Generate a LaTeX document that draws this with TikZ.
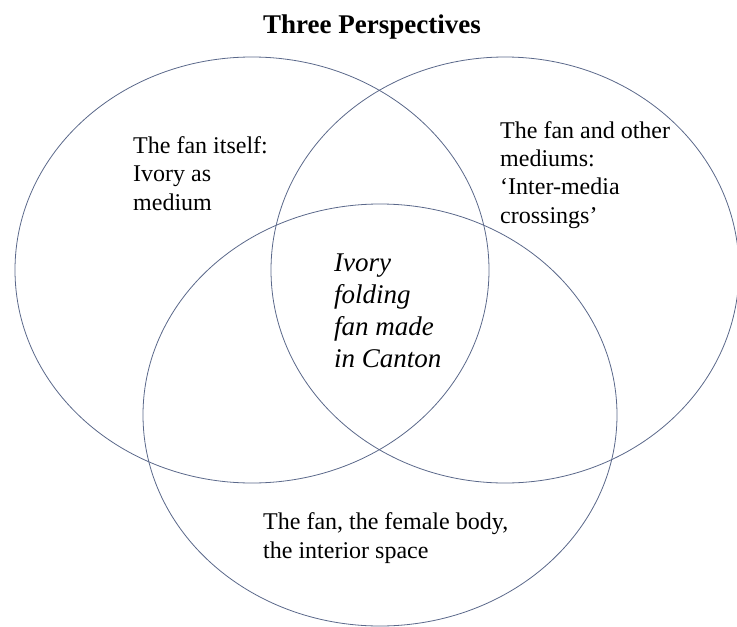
\documentclass[tikz,border=0pt]{standalone}
\usepackage{fontspec}
\setmainfont{Liberation Serif}
\usepackage{xcolor}
\definecolor{vennline}{RGB}{90,104,138}
\usetikzlibrary{positioning}

\begin{document}
\begin{tikzpicture}[x=1pt,y=-1pt,
    every node/.style={inner sep=0pt,align=left,anchor=base west},
    label/.style={font=\fontsize{24}{28.3}\selectfont},
    core/.style={font=\fontsize{27}{32}\selectfont\itshape}]
  \useasboundingbox (0,0) rectangle (737,627);
  \def\rx{237} \def\ry{213}
  \coordinate (fan) at (252,270);
  \coordinate (media) at (505,270);
  \coordinate (body) at (380,415);
  \begin{scope}[every path/.style={draw,vennline,line width=0.8pt}]
    \draw (fan) ellipse [x radius=\rx, y radius=\ry];
    \draw (media) ellipse [x radius={\rx-3}, y radius=\ry];
    \draw (body) ellipse [x radius=\rx, y radius={\ry-2}];
  \end{scope}
  % multi-line nodes sit on the baseline of their last line
  \node[anchor=base,font=\fontsize{27}{32}\selectfont\bfseries] (title) at (372,33) {Three Perspectives};
  \node[label] (fanlbl) at (133,210) {The fan itself:\\Ivory as\\medium};
  \node[label] (medialbl) at (500,223) {The fan and other\\mediums:\\`Inter-media\\crossings'};
  \node[label] (bodylbl) at (263,558) {The fan, the female body,\\the interior space};
  \node[core] (ivory) at (334,367) {Ivory\\folding\\fan made\\in Canton};
\end{tikzpicture}
\end{document}
